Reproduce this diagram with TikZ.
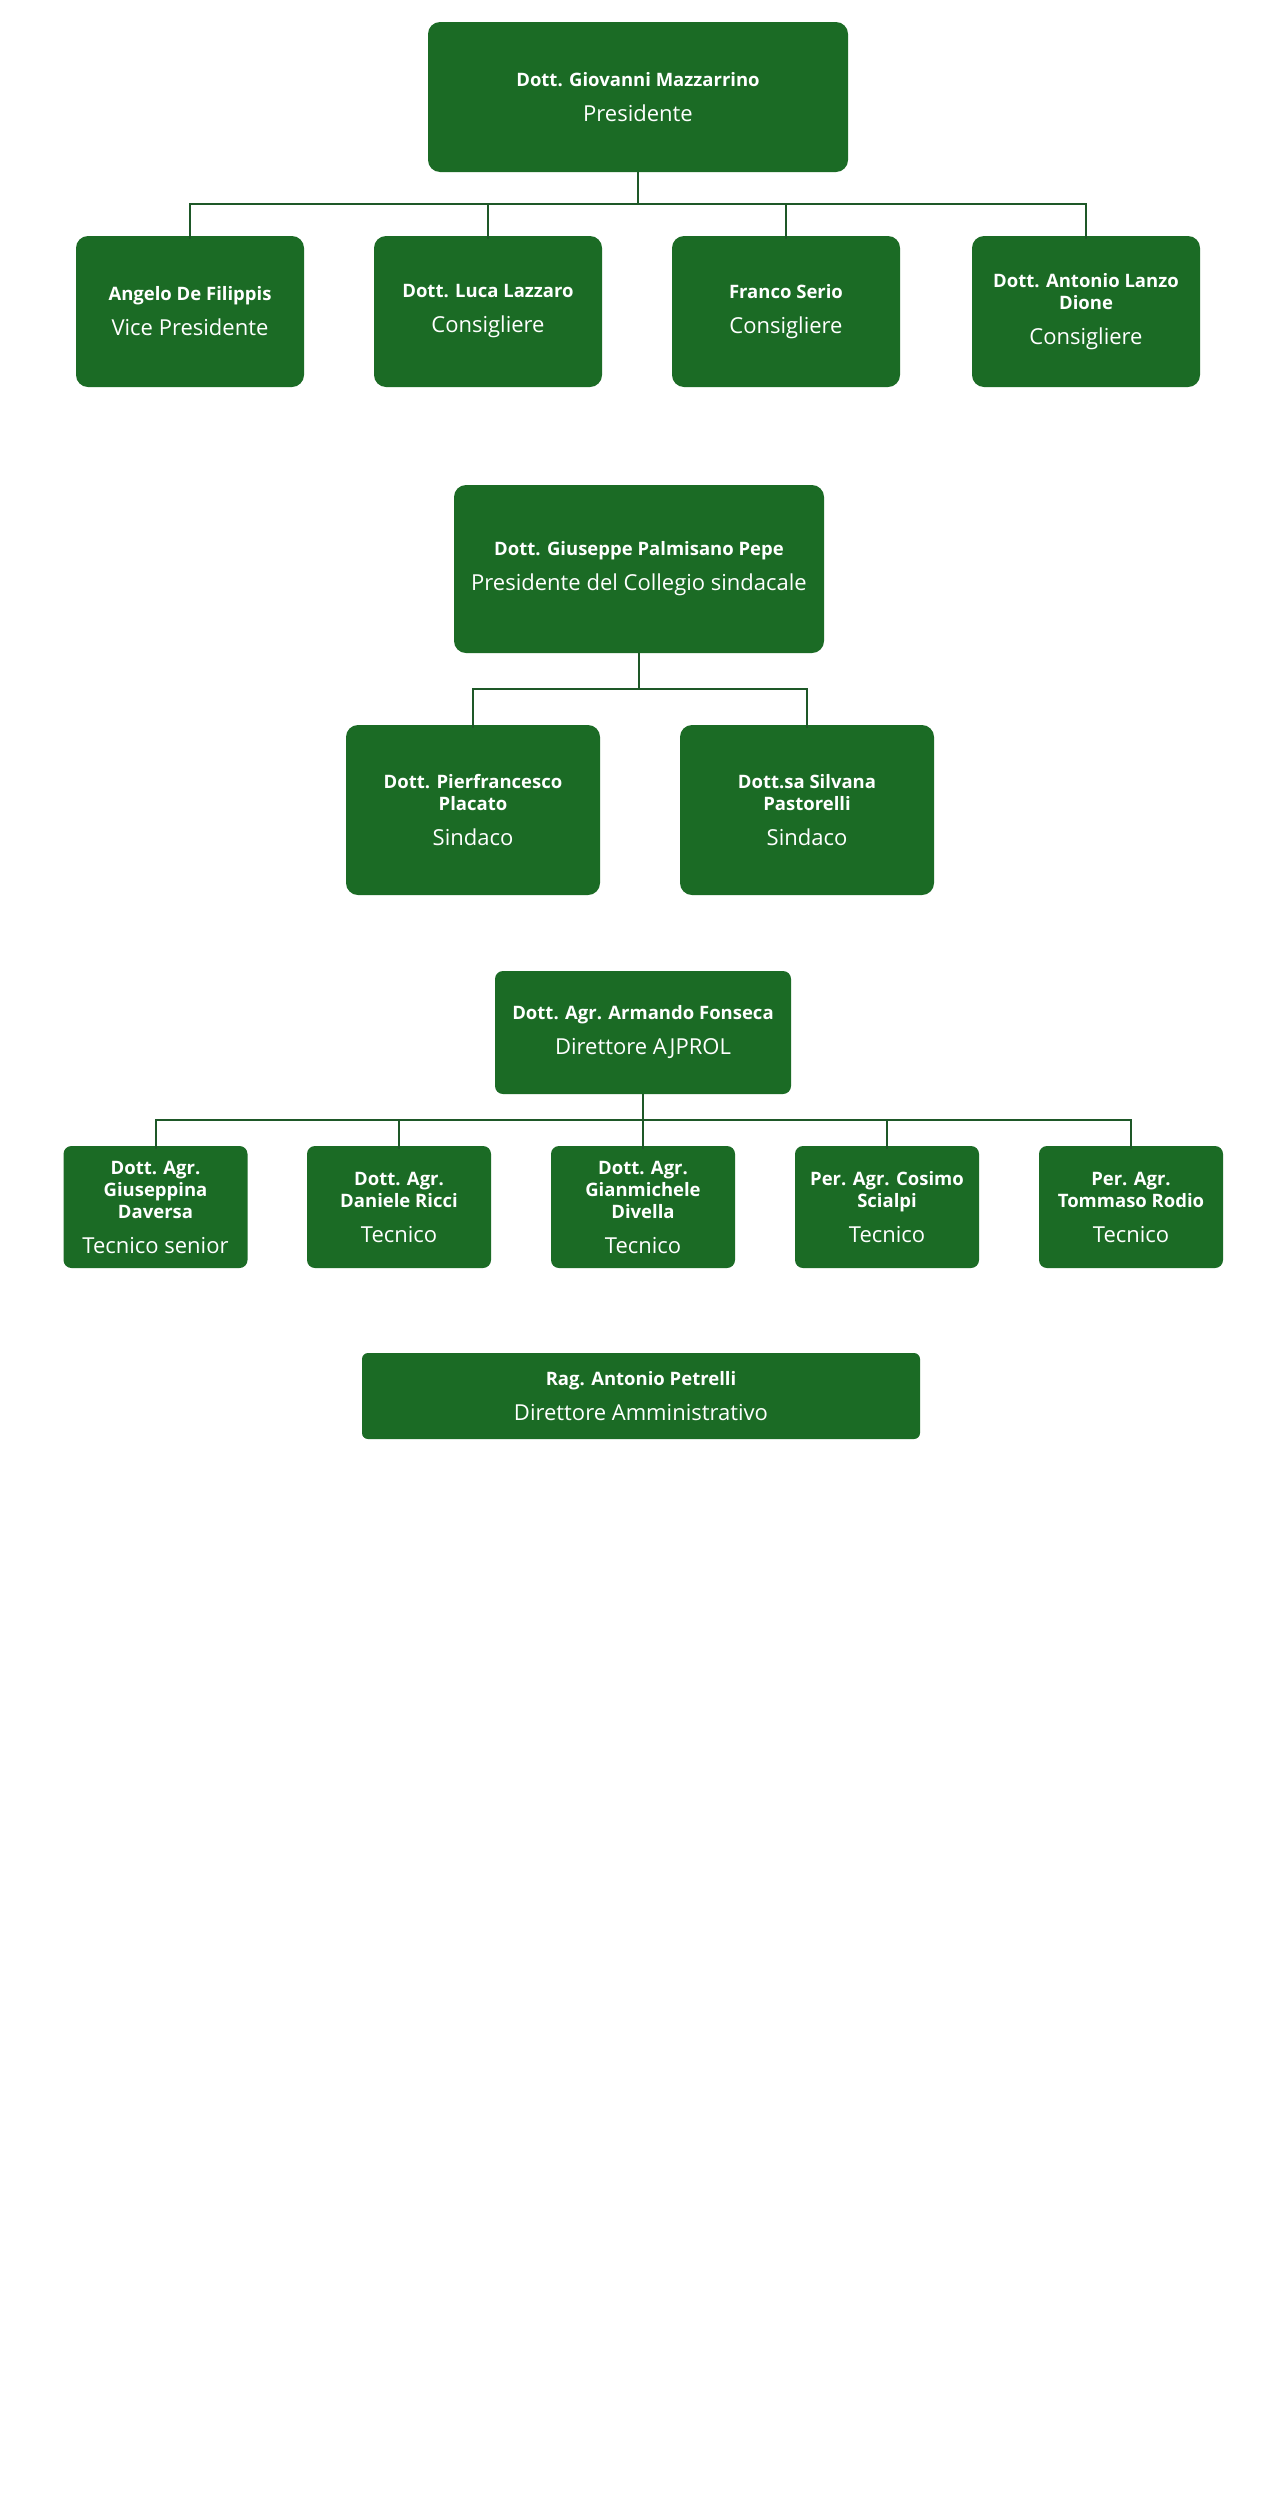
\documentclass[tikz,border=0pt]{standalone}
\usepackage{fontspec}
\setmainfont{Open Sans}
\definecolor{boxgreen}{RGB}{27,107,37}
\definecolor{linegreen}{RGB}{30,88,40}
\newcommand{\rl}[1]{{\mdseries\fontsize{22}{26}\selectfont #1}}
\begin{document}
\begin{tikzpicture}[x=1pt,y=-1pt,
  orgbox/.style={fill=boxgreen, text=white, align=center, inner sep=0pt,
    rounded corners=12pt, font=\fontsize{18.5}{22}\selectfont\bfseries},
  smallbox/.style={orgbox, rounded corners=8pt},
  conn/.style={draw=linegreen, line width=2pt}]
\useasboundingbox (0,0) rectangle (1280,2500);
\fill[white] (0,0) rectangle (1280,2500);

% ---- Row 1 ----
\node[orgbox, minimum width=420pt, minimum height=150pt] (pres) at (638,97)
  {Dott. Giovanni Mazzarrino\\[13pt]\rl{Presidente}};
\node[orgbox, minimum width=228pt, minimum height=151pt] (c1) at (190,311.5)
  {Angelo De Filippis\\[13pt]\rl{Vice Presidente}};
\node[orgbox, minimum width=228pt, minimum height=151pt] (c2) at (488,311.5)
  {Dott. Luca Lazzaro\\[13pt]\rl{Consigliere}};
\node[orgbox, minimum width=228pt, minimum height=151pt] (c3) at (786,311.5)
  {Franco Serio\\[13pt]\rl{Consigliere}};
\node[orgbox, minimum width=228pt, minimum height=151pt] (c4) at (1086,311.5)
  {Dott. Antonio Lanzo\\Dione\\[13pt]\rl{Consigliere}};
\draw[conn] (pres.south) -- ++(0,32) coordinate (j1);
\foreach \c in {c1,c2,c3,c4} \draw[conn] (j1) -| ([yshift=-3pt]\c.north);

% ---- Row 2 ----
\node[orgbox, minimum width=370pt, minimum height=168pt] (pal) at (639,569)
  {Dott. Giuseppe Palmisano Pepe\\[13pt]\rl{Presidente del Collegio sindacale}};
\node[orgbox, minimum width=254pt, minimum height=170pt] (s1) at (473,810)
  {Dott. Pierfrancesco\\Placato\\[13pt]\rl{Sindaco}};
\node[orgbox, minimum width=254pt, minimum height=170pt] (s2) at (807,810)
  {Dott.sa Silvana\\Pastorelli\\[13pt]\rl{Sindaco}};
\draw[conn] (pal.south) -- ++(0,36) coordinate (j2);
\foreach \c in {s1,s2} \draw[conn] (j2) -| ([yshift=-3pt]\c.north);

% ---- Row 3 ----
\node[smallbox, minimum width=296pt, minimum height=123pt] (dir) at (643,1032.5)
  {Dott. Agr. Armando Fonseca\\[13pt]\rl{Direttore AJPROL}};
\node[smallbox, minimum width=184pt, minimum height=122pt] (t1) at (155.5,1207)
  {Dott. Agr.\\Giuseppina\\Daversa\\[13pt]\rl{Tecnico senior}};
\node[smallbox, minimum width=184pt, minimum height=122pt] (t2) at (399,1207)
  {Dott. Agr.\\Daniele Ricci\\[13pt]\rl{Tecnico}};
\node[smallbox, minimum width=184pt, minimum height=122pt] (t3) at (643,1207)
  {Dott. Agr.\\Gianmichele\\Divella\\[13pt]\rl{Tecnico}};
\node[smallbox, minimum width=184pt, minimum height=122pt] (t4) at (887,1207)
  {Per. Agr. Cosimo\\Scialpi\\[13pt]\rl{Tecnico}};
\node[smallbox, minimum width=184pt, minimum height=122pt] (t5) at (1131,1207)
  {Per. Agr.\\Tommaso Rodio\\[13pt]\rl{Tecnico}};
\draw[conn] (dir.south) -- ++(0,26) coordinate (j3);
\foreach \c in {t1,t2,t3,t4,t5} \draw[conn] (j3) -| ([yshift=-3pt]\c.north);

% ---- Row 4 ----
\node[orgbox, rounded corners=6pt, minimum width=558pt, minimum height=86pt] (amm) at (641,1396)
  {Rag. Antonio Petrelli\\[13pt]\rl{Direttore Amministrativo}};
\end{tikzpicture}
\end{document}
